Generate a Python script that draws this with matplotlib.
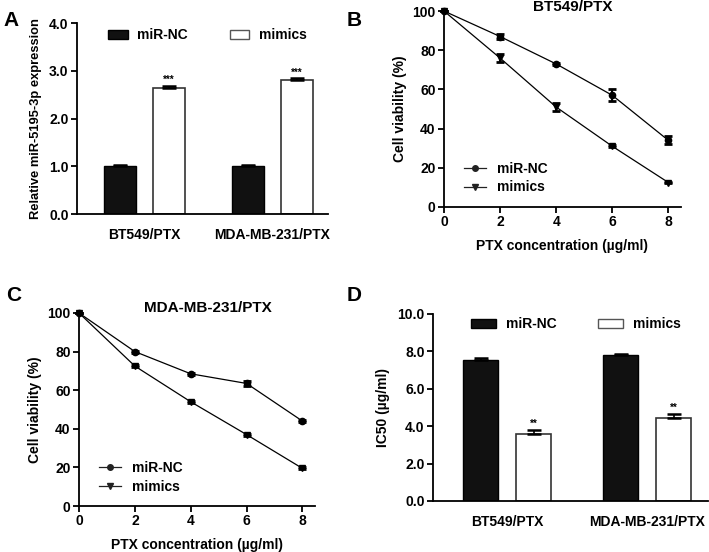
import numpy as np
import matplotlib.pyplot as plt
from matplotlib.lines import Line2D
from matplotlib.patches import Patch

plt.rcParams['font.family'] = ['Liberation Sans', 'DejaVu Sans']
plt.rcParams['font.weight'] = 'bold'
plt.rcParams['axes.labelweight'] = 'bold'
plt.rcParams['axes.linewidth'] = 1.3

# data
cells = ['BT549/PTX', 'MDA-MB-231/PTX']
groups = ['miR-NC', 'mimics']

expr_nc = [1.0, 1.0]
expr_nc_err = [0.03, 0.03]
expr_mim = [2.63, 2.81]
expr_mim_err = [0.06, 0.03]

conc = [0, 2, 4, 6, 8]
bt_nc = [100, 87, 73, 57, 34]
bt_nc_err = [0, 1.5, 0.5, 3, 2]
bt_mim = [100, 76, 51, 31, 12.5]
bt_mim_err = [0, 2, 2, 0.5, 0.5]

mda_nc = [100, 80, 68.5, 63.5, 44]
mda_nc_err = [0, 0.5, 0.5, 1.5, 0.5]
mda_mim = [100, 72.5, 54, 37, 19.5]
mda_mim_err = [0, 0.5, 0.5, 0.5, 0.5]

ic50_nc = [7.55, 7.8]
ic50_nc_err = [0.1, 0.08]
ic50_mim = [3.6, 4.45]
ic50_mim_err = [0.2, 0.2]

fig = plt.figure(figsize=(7.09, 5.52), dpi=100)

axA = fig.add_axes([0.1085, 0.6123, 0.354, 0.346])
axB = fig.add_axes([0.6262, 0.625, 0.3343, 0.355])
axC = fig.add_axes([0.1114, 0.0833, 0.3329, 0.3497])
axD = fig.add_axes([0.6107, 0.0924, 0.3879, 0.3388])


def bar_panel(ax, nc, nc_err, mim, mim_err, ymax, step, stars, ylabel, ylsize, leg_y, hl):
    x = np.arange(len(cells))
    w = 0.25
    off = 0.19
    ax.bar(x - off, nc, w, color='#111111', edgecolor='black', lw=1)
    ax.bar(x + off, mim, w, color='white', edgecolor='#333333', lw=1.2)
    ax.errorbar(x - off, nc, yerr=[np.zeros(len(nc)), nc_err], fmt='none',
                ecolor='black', capsize=5, elinewidth=1.2, capthick=1.8)
    ax.errorbar(x + off, mim, yerr=[np.zeros(len(mim)), mim_err], fmt='none',
                ecolor='black', capsize=5, elinewidth=1.2, capthick=1.8)
    for xi, m, e in zip(x + off, mim, mim_err):
        ax.text(xi, m + e + ymax * 0.004, stars, ha='center', va='bottom', fontsize=7)
    ax.set_xlim(-0.53, 1.435)
    ax.set_ylim(0, ymax)
    ax.set_xticks(x)
    ax.set_xticklabels(cells, fontsize=10)
    ax.tick_params(axis='x', length=0, pad=10)
    ticks = np.arange(0, ymax + step / 2, step)
    ax.set_yticks(ticks)
    ax.set_yticklabels(['%.1f' % v for v in ticks], fontsize=10)
    ax.tick_params(axis='y', length=4, width=1.3, pad=2)
    ax.spines['top'].set_visible(False)
    ax.spines['right'].set_visible(False)
    ax.set_ylabel(ylabel, fontsize=ylsize, labelpad=5)
    handles = [Patch(facecolor='#111111', edgecolor='black'),
               Patch(facecolor='white', edgecolor='#555555')]
    ax.legend(handles, groups, loc='center', ncol=2, frameon=False, fontsize=10,
              handlelength=hl, handleheight=0.7, handletextpad=0.7, columnspacing=3.0,
              bbox_to_anchor=(0.52, leg_y))


def line_panel(ax, nc, nc_err, mim, mim_err, title, title_y):
    ax.errorbar(conc, nc, yerr=nc_err, color='black', marker='o', ms=4.5,
                lw=0.9, capsize=3, elinewidth=1.5, capthick=2, clip_on=False)
    ax.errorbar(conc, mim, yerr=mim_err, color='black', marker='v', ms=4.5,
                lw=0.9, capsize=3, elinewidth=1.5, capthick=2, clip_on=False)
    ax.set_xlim(0, 8.45)
    ax.set_ylim(0, 100)
    ax.set_xticks(conc)
    ax.set_yticks([0, 20, 40, 60, 80, 100])
    ax.tick_params(labelsize=10, length=4, width=1.3, pad=2)
    ax.spines['top'].set_visible(False)
    ax.spines['right'].set_visible(False)
    ax.set_xlabel('PTX concentration (\u00b5g/ml)', fontsize=10, labelpad=7)
    ax.set_ylabel('Cell viability (%)', fontsize=10, labelpad=4)
    ax.text(0.545, title_y, title, transform=ax.transAxes, fontsize=11,
            fontweight='bold', ha='center', va='center')
    handles = [Line2D([], [], color='#222222', marker='o', ms=4, lw=0.9),
               Line2D([], [], color='#222222', marker='v', ms=4, lw=0.9)]
    ax.legend(handles, groups, loc='lower left', frameon=False, fontsize=10,
              handlelength=1.6, handletextpad=0.8, labelspacing=0.35,
              bbox_to_anchor=(0.03, 0.0))


bar_panel(axA, expr_nc, expr_nc_err, expr_mim, expr_mim_err, 4.0, 1.0, '***',
          'Relative miR-5195-3p expression', 9.3, 0.935, 1.4)
bar_panel(axD, ic50_nc, ic50_nc_err, ic50_mim, ic50_mim_err, 10.0, 2.0, '**',
          'IC50 (\u00b5g/ml)', 10, 0.945, 1.8)
line_panel(axB, bt_nc, bt_nc_err, bt_mim, bt_mim_err, 'BT549/PTX', 1.02)
line_panel(axC, mda_nc, mda_nc_err, mda_mim, mda_mim_err, 'MDA-MB-231/PTX', 1.026)

for lab, x, y in [('A', 0.005, 0.963), ('B', 0.489, 0.963), ('C', 0.008, 0.465), ('D', 0.489, 0.465)]:
    fig.text(x, y, lab, fontsize=15, fontweight='bold', ha='left', va='center')

fig.savefig('out.png', dpi=100)
